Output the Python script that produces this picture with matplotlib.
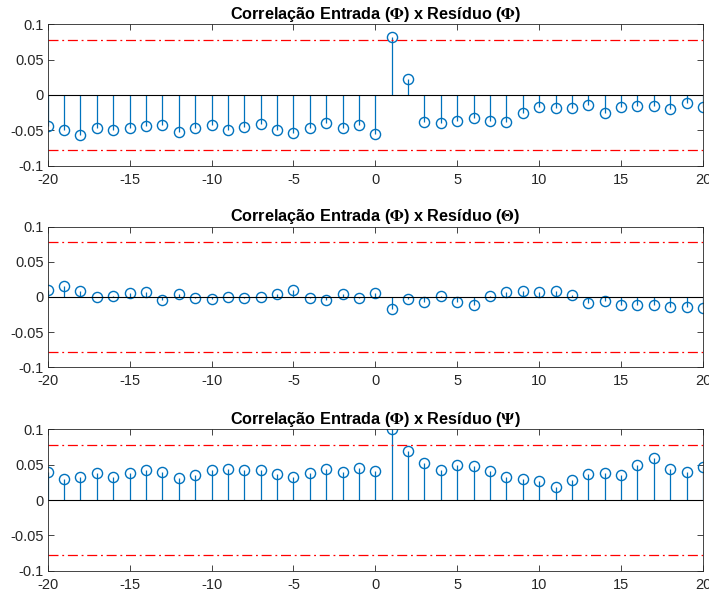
import numpy as np
import matplotlib
matplotlib.use("Agg")
import matplotlib.pyplot as plt

plt.rcParams['font.family'] = ['Liberation Sans', 'DejaVu Sans']
plt.rcParams['mathtext.fontset'] = 'stix'

# lags
lags = np.arange(-20, 21)

# correlação entrada x resíduo
corr_phi = [-0.044, -0.050, -0.056, -0.046, -0.050, -0.046, -0.044, -0.042, -0.052, -0.046,
            -0.042, -0.050, -0.045, -0.041, -0.050, -0.054, -0.047, -0.039, -0.046, -0.042,
            -0.055, 0.0815, 0.022, -0.038, -0.040, -0.037, -0.032, -0.037, -0.038, -0.026,
            -0.0165, -0.019, -0.018, -0.0137, -0.025, -0.017, -0.015, -0.015, -0.020, -0.011,
            -0.017]
corr_theta = [0.010, 0.0156, 0.0085, -0.0005, 0.001, 0.006, 0.007, -0.004, 0.004, -0.002,
              -0.003, 0.0005, -0.001, 0.0005, 0.004, 0.0105, -0.0015, -0.004, 0.004, -0.002,
              0.006, -0.0166, -0.003, -0.007, 0.001, -0.0066, -0.012, 0.002, 0.0076, 0.008,
              0.0076, 0.008, 0.003, -0.008, -0.005, -0.012, -0.011, -0.011, -0.014, -0.014,
              -0.0156]
corr_psi = [0.040, 0.0297, 0.032, 0.0387, 0.032, 0.0387, 0.043, 0.040, 0.031, 0.036,
            0.043, 0.0434, 0.043, 0.0425, 0.037, 0.033, 0.0377, 0.0434, 0.0396, 0.045,
            0.041, 0.100, 0.070, 0.053, 0.0425, 0.049, 0.0486, 0.0406, 0.0325, 0.029,
            0.0274, 0.019, 0.028, 0.037, 0.0377, 0.035, 0.049, 0.060, 0.044, 0.040,
            0.046]

# intervalo de confiança 95%
conf = 0.0784

titles = [r'Correlação Entrada ($\mathbf{\Phi}$) x Resíduo ($\mathbf{\Phi}$)',
          r'Correlação Entrada ($\mathbf{\Phi}$) x Resíduo ($\mathbf{\Theta}$)',
          r'Correlação Entrada ($\mathbf{\Phi}$) x Resíduo ($\mathbf{\Psi}$)']
series = [corr_phi, corr_theta, corr_psi]

blue = '#0072BD'
axc = '#262626'

fig = plt.figure(figsize=(7.09, 5.94), dpi=100)
# caixas dos eixos em pixels: (x0, y0, x1, y1)
W, H = 709, 594
boxes = [(47.7, 24.3, 703, 165.7), (47.7, 226.7, 703, 367.3), (47.7, 429.3, 703, 570.7)]

for (x0, y0, x1, y1), vals, ttl in zip(boxes, series, titles):
    ax = fig.add_axes([x0 / W, 1 - y1 / H, (x1 - x0) / W, (y1 - y0) / H])
    ml, sl, bl = ax.stem(lags, vals, linefmt='-', markerfmt='o', basefmt='k-')
    plt.setp(sl, color=blue, linewidth=0.9)
    plt.setp(ml, markeredgecolor=blue, markerfacecolor='none', markersize=7.3,
             markeredgewidth=1.0)
    plt.setp(bl, color='k', linewidth=0.8)
    ax.axhline(conf, color='red', linestyle=(0, (8, 3, 1.5, 3)), linewidth=0.9)
    ax.axhline(-conf, color='red', linestyle=(0, (8, 3, 1.5, 3)), linewidth=0.9)
    ax.set_xlim(-20, 20)
    ax.set_ylim(-0.1, 0.1)
    ax.set_xticks(np.arange(-20, 21, 5))
    ax.set_yticks([-0.1, -0.05, 0, 0.05, 0.1])
    ax.set_xticklabels([str(v) for v in range(-20, 21, 5)])
    ax.set_yticklabels(['-0.1', '-0.05', '0', '0.05', '0.1'])
    ax.tick_params(direction='in', top=True, right=True, length=4.5, width=0.6,
                   colors=axc, labelsize=10.5)
    ax.tick_params(axis='x', pad=5)
    ax.tick_params(axis='y', pad=3)
    for s in ax.spines.values():
        s.set_color(axc)
        s.set_linewidth(0.6)
    ax.set_title(ttl, fontsize=11.7, fontweight='bold', pad=4)

fig.savefig('out.png', dpi=100)
